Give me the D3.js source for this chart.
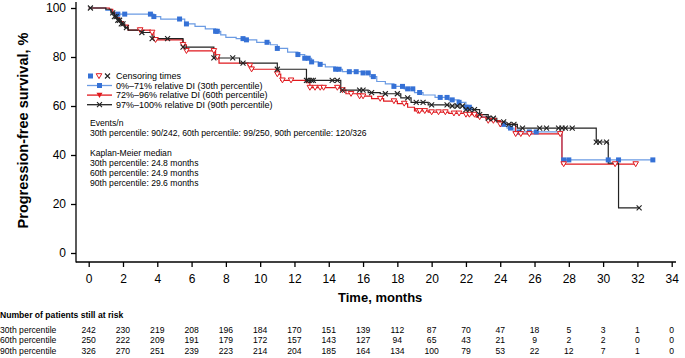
<!DOCTYPE html>
<html>
<head>
<meta charset="utf-8">
<script src="https://cdn.jsdelivr.net/npm/d3@7"></script>
<style>
    body { margin: 0; background: #fff; font-family: "Liberation Sans", Arial, sans-serif; }
    .tick text { font-family: "Liberation Sans", Arial, sans-serif; }
</style>
</head>
<body>
<svg id="chart" width="685" height="358"></svg>
<script>
// axis ticks
const xTicks = [0, 2, 4, 6, 8, 10, 12, 14, 16, 18, 20, 22, 24, 26, 28, 30, 32, 34];
const yTicks = [0, 20, 40, 60, 80, 100];

// KM steps (time in months, survival %)
const steps30T = [0, 1.0, 1.4, 3.8, 4.2, 5.6, 6.2, 6.8, 7.4, 7.7, 8.0, 8.6, 9.2, 9.8, 10.6, 11.0, 11.6, 12.2, 12.6, 13.0, 13.4, 13.8, 14.4, 14.8, 16.0, 16.4, 16.8, 17.3, 17.8, 18.4, 19.0, 19.5, 20.2, 21.0, 21.6, 22.0, 22.4, 22.8, 23.4, 24.0, 24.4, 24.8, 27.6];
const steps30S = [100, 99, 97.5, 96.5, 95.5, 93.5, 92.5, 91.5, 90.5, 89, 88, 87.5, 87, 86, 85, 83.5, 82, 81, 79.5, 78, 77, 76, 75, 74, 73.5, 72, 70, 69, 68, 67, 65.5, 64.5, 63.5, 62.5, 61.5, 59.5, 57, 55.5, 54, 52.5, 51, 49.4, 38];
const end30 = 32.9;

const steps60T = [0, 1.2, 1.4, 1.6, 1.8, 2.0, 2.3, 3.6, 3.8, 5.5, 5.7, 7.4, 7.6, 9.3, 9.5, 11.0, 11.2, 12.7, 12.9, 14.7, 15.0, 15.8, 16.5, 17.2, 18.0, 18.6, 19.0, 19.8, 21.0, 22.0, 22.6, 23.3, 24.0, 24.9, 27.6];
const steps60S = [100, 99.5, 98, 96, 94.5, 93, 91, 90, 87, 85, 82.5, 80, 77.5, 76.5, 75, 73, 70.5, 69.5, 67.5, 66.5, 65, 64, 63, 62, 61, 59.5, 58, 57.5, 57, 56.5, 55.5, 54, 52.5, 48.6, 36.3];
const end60 = 31.9;

const steps90T = [0, 1.0, 1.3, 1.5, 1.7, 1.9, 2.1, 2.3, 3.1, 3.7, 5.5, 7.3, 8.8, 11.0, 12.7, 14.7, 16.3, 17.0, 18.2, 18.8, 19.8, 21.0, 22.0, 22.8, 23.3, 23.8, 24.3, 25.0, 29.6, 30.3, 30.9];
const steps90S = [100, 99.5, 98, 96.5, 95, 93.5, 92, 91, 90, 87.5, 84, 79.6, 77.5, 75, 70.5, 66.5, 65.5, 65, 63.3, 61.5, 60.5, 60, 58.5, 56.5, 55, 53.5, 52.5, 51, 45.3, 36.7, 18.4];
const end90 = 32.1;

// censoring times
const censor30 = [1.7, 2.1, 3.6, 3.8, 5.3, 5.7, 7.4, 7.5, 9.0, 9.2, 10.4, 11.0, 12.2, 12.6, 12.8, 13.0, 13.5, 14.4, 14.6, 15.2, 15.6, 16.0, 16.3, 16.6, 17.8, 18.3, 18.6, 18.9, 19.3, 20.5, 20.9, 21.2, 21.6, 22.0, 22.2, 24.2, 24.6, 25.1, 25.7, 26.1, 27.7, 28.0, 30.3, 30.9, 32.9];
const censor60 = [3.0, 3.7, 3.9, 5.5, 5.7, 7.3, 7.5, 9.4, 9.5, 11.0, 11.3, 11.8, 12.9, 13.2, 13.5, 13.7, 14.5, 14.8, 15.3, 15.8, 16.0, 17.0, 17.8, 18.4, 19.2, 19.3, 19.6, 20.0, 20.4, 20.8, 21.3, 21.6, 22.0, 22.2, 22.5, 22.8, 23.3, 23.6, 24.0, 24.9, 25.2, 25.7, 27.5, 27.7, 30.7, 31.9];
const censor90 = [0.1, 1.4, 1.5, 1.6, 1.7, 1.8, 1.9, 2.0, 2.2, 3.1, 3.7, 4.6, 5.5, 7.3, 8.4, 9.0, 11.0, 12.7, 12.8, 13.0, 13.1, 14.2, 14.5, 14.8, 15.8, 16.0, 16.5, 17.3, 18.0, 18.6, 19.1, 19.5, 20.0, 20.9, 21.2, 21.5, 21.8, 22.0, 22.2, 22.5, 22.8, 23.3, 23.6, 24.2, 24.5, 24.8, 25.3, 26.3, 26.7, 27.4, 27.6, 27.8, 28.2, 29.6, 29.8, 30.2, 32.1];

// legend + annotation text
const legendLabels = ["0%\u201371% relative DI (30th percentile)", "72%\u201396% relative DI (60th percentile)", "97%\u2013100% relative DI (90th percentile)"];
const infoLines = ["Events/n", "30th percentile: 90/242, 60th percentile: 99/250, 90th percentile: 120/326", "", "Kaplan-Meier median", "30th percentile: 24.8 months", "60th percentile: 24.9 months", "90th percentile: 29.6 months"];

// number at risk
const riskTimes = [0, 2, 4, 6, 8, 10, 12, 14, 16, 18, 20, 22, 24, 26, 28, 30, 32, 34];
const riskGroups = ["30th percentile", "60th percentile", "90th percentile"];
const risk30 = [242, 230, 219, 208, 196, 184, 170, 151, 139, 112, 87, 70, 47, 18, 5, 3, 1, 0];
const risk60 = [250, 222, 209, 191, 179, 172, 157, 143, 127, 94, 65, 43, 21, 9, 2, 2, 0, 0];
const risk90 = [326, 270, 251, 239, 223, 214, 204, 185, 164, 134, 100, 79, 53, 22, 12, 7, 1, 0];

const blueLine = "#6b9be3", blueMark = "#3571d6", red = "#e0191e", black = "#222";

const svg = d3.select("#chart");
const x = d3.scaleLinear().domain([0, 34]).range([88.7, 671.7]);
const y = d3.scaleLinear().domain([0, 100]).range([253, 8]);

// axes
const xAxis = svg.append("g")
    .attr("transform", "translate(0,262)")
    .call(d3.axisBottom(x).tickValues(xTicks).tickSize(5).tickPadding(7).tickSizeOuter(0));
xAxis.select(".domain").remove();
xAxis.append("line").attr("x1", 76).attr("x2", 676).attr("stroke", "#000").attr("stroke-width", 1.3);
xAxis.selectAll(".tick line").attr("stroke-width", 1.3);
xAxis.selectAll("text").attr("font-size", 12).attr("fill", "#000");

const yAxis = svg.append("g")
    .attr("transform", "translate(76,0)")
    .call(d3.axisLeft(y).tickValues(yTicks).tickSize(5).tickPadding(5).tickSizeOuter(0));
yAxis.select(".domain").remove();
yAxis.append("line").attr("y1", 2).attr("y2", 262.6).attr("stroke", "#000").attr("stroke-width", 1.3);
yAxis.selectAll(".tick line").attr("stroke-width", 1.3);
yAxis.selectAll("text").attr("font-size", 12).attr("fill", "#000");

svg.append("text")
    .attr("transform", "translate(23,130.5) rotate(-90)")
    .attr("text-anchor", "middle")
    .attr("dominant-baseline", "central")
    .attr("font-size", 14.5).attr("font-weight", "bold")
    .text("Progression-free survival, %");

svg.append("text")
    .attr("x", x(17)).attr("y", 302)
    .attr("text-anchor", "middle")
    .attr("font-size", 13).attr("font-weight", "bold")
    .text("Time, months");

// curves
const groups = [
    {T: steps30T, S: steps30S, end: end30, censor: censor30, line: blueLine, mark: blueMark, shape: "square"},
    {T: steps60T, S: steps60S, end: end60, censor: censor60, line: red, mark: red, shape: "tri"},
    {T: steps90T, S: steps90S, end: end90, censor: censor90, line: black, mark: black, shape: "x"}
];

const stepLine = d3.line().x(d => x(d[0])).y(d => y(d[1])).curve(d3.curveStepAfter);

function survAt(g, t) {
    let v = g.S[0];
    g.T.forEach((tt, i) => { if (tt <= t) v = g.S[i]; });
    return v;
}

function drawMark(sel, shape, color, cx, cy) {
    if (shape === "square") {
        sel.append("rect").attr("x", cx - 2.5).attr("y", cy - 2.5).attr("width", 5).attr("height", 5)
            .attr("fill", color);
    } else if (shape === "tri") {
        sel.append("path").attr("d", `M${cx - 2.8},${cy - 2.3}L${cx + 2.8},${cy - 2.3}L${cx},${cy + 2.6}Z`)
            .attr("fill", "#fff").attr("stroke", color).attr("stroke-width", 1);
    } else {
        sel.append("path").attr("d", `M${cx - 2.5},${cy - 2.5}L${cx + 2.5},${cy + 2.5}M${cx - 2.5},${cy + 2.5}L${cx + 2.5},${cy - 2.5}`)
            .attr("stroke", color).attr("stroke-width", 1.1);
    }
}

groups.forEach(g => {
    const pts = g.T.map((t, i) => [t, g.S[i]]);
    pts.push([g.end, g.S[g.S.length - 1]]);
    svg.append("path").datum(pts)
        .attr("d", stepLine)
        .attr("fill", "none")
        .attr("stroke", g.line)
        .attr("stroke-width", 1.2);
});

groups.forEach(g => {
    const mg = svg.append("g");
    g.censor.forEach(t => drawMark(mg, g.shape, g.mark, x(t), y(survAt(g, t))));
});

// legend
const leg = svg.append("g");
drawMark(leg, "square", blueMark, 90.5, 76);
drawMark(leg, "tri", red, 99, 76);
drawMark(leg, "x", black, 107.5, 76);
leg.append("text").attr("x", 116).attr("y", 79.2).attr("font-size", 9).text("Censoring times");

[["square", blueLine, blueMark], ["tri", red, red], ["x", black, black]].forEach((s, i) => {
    const ly = 85.5 + i * 9.6;
    leg.append("line").attr("x1", 87).attr("x2", 112).attr("y1", ly).attr("y2", ly)
        .attr("stroke", s[1]).attr("stroke-width", 1.3);
    if (s[0] === "tri") {
        leg.append("path").attr("d", `M96.5,${ly - 2.4}L102.5,${ly - 2.4}L99.5,${ly + 2.8}Z`).attr("fill", red);
    } else {
        drawMark(leg, s[0], s[2], 99.5, ly);
    }
    leg.append("text").attr("x", 116).attr("y", ly + 3.2).attr("font-size", 9).text(legendLabels[i]);
});

// events / median text
svg.append("g").selectAll("text")
    .data(infoLines)
    .enter()
    .append("text")
    .attr("x", 90)
    .attr("y", (d, i) => 126 + i * 10)
    .attr("font-size", 8.6)
    .text(d => d);

// number at risk table
svg.append("text").attr("x", 0).attr("y", 318)
    .attr("font-size", 8.6).attr("font-weight", "bold")
    .text("Number of patients still at risk");

[risk30, risk60, risk90].forEach((row, r) => {
    const ry = 332.5 + r * 10.6;
    svg.append("text").attr("x", 0).attr("y", ry).attr("font-size", 8.6).text(riskGroups[r]);
    svg.append("g").selectAll("text")
        .data(row)
        .enter()
        .append("text")
        .attr("x", (d, i) => x(riskTimes[i]))
        .attr("y", ry)
        .attr("text-anchor", "middle")
        .attr("font-size", 8.6)
        .text(d => d);
});
</script>
</body>
</html>
